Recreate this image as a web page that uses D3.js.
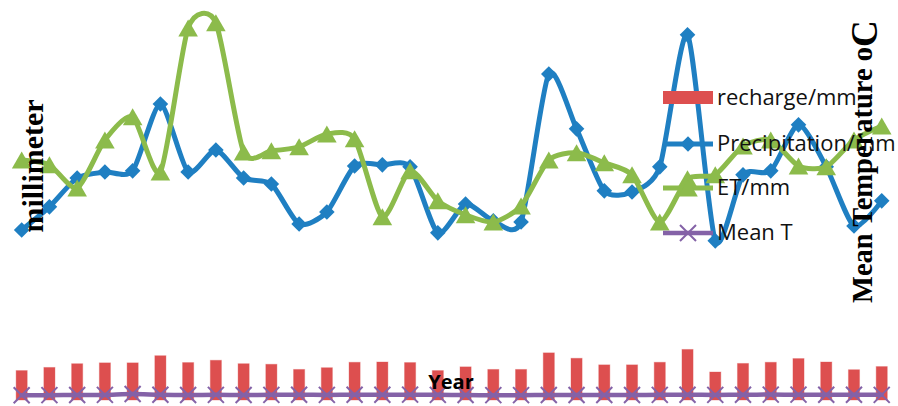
<!DOCTYPE html>
<html>
<head>
<meta charset="utf-8">
<script src="https://cdn.jsdelivr.net/npm/d3@7"></script>
<style>
  html, body { margin: 0; padding: 0; background: #fff; }
  svg { display: block; }
</style>
</head>
<body>
<svg id="chart" width="898" height="406"></svg>
<script>
// Annual water balance, one entry per year
const years = [1985, 1986, 1987, 1988, 1989, 1990, 1991, 1992, 1993, 1994, 1995,
               1996, 1997, 1998, 1999, 2000, 2001, 2002, 2003, 2004, 2005, 2006,
               2007, 2008, 2009, 2010, 2011, 2012, 2013, 2014, 2015, 2016];

const precipitation = [595, 676, 777, 798, 802, 1036, 798, 875, 777, 756, 616,
                       658, 819, 823, 816, 585, 686, 627, 623, 1141, 949, 732,
                       728, 816, 1278, 557, 788, 802, 963, 816, 609, 697];

const evapotranspiration = [840, 823, 742, 910, 991, 798, 1302, 1320, 868, 872, 886,
                            931, 914, 641, 802, 697, 648, 623, 679, 840, 865, 830,
                            788, 623, 774, 788, 889, 910, 819, 816, 910, 959];

const recharge = [103, 114, 127, 130, 130, 155, 131, 139, 127, 125, 107,
                  113, 132, 133, 131, 103, 116, 107, 107, 165, 146, 123,
                  123, 132, 177, 98, 128, 132, 145, 133, 106, 117];

const meanTemp = [14.2, 14.6, 14.9, 15.3, 17.8, 15.6, 15.1, 15.4, 15.2, 15.5, 15.8,
                  15.3, 15.6, 15.9, 16.1, 15.4, 14.8, 14.5, 14.6, 14.9, 15.2, 15.1,
                  15.0, 15.4, 15.7, 15.3, 15.9, 16.2, 16.0, 15.8, 15.6, 15.5];

const seriesNames = ["recharge/mm", "Precipitation/mm", "ET/mm", "Mean T"];

const colors = {
  recharge: "#dd4f4f",
  precip: "#1f7fc2",
  et: "#8cbb4b",
  temp: "#8462a7"
};

const svg = d3.select("#chart");

const x = d3.scaleBand()
  .domain(years)
  .range([7.8, 895.6])
  .paddingInner(0.6)
  .paddingOuter(0.3);
const cx = d => x(d) + x.bandwidth() / 2;

const yLeft = d3.scaleLinear().domain([0, 1400]).range([400, 0]);
const yRight = d3.scaleLinear().domain([0, 1200]).range([400, 0]);

const smooth = d3.curveCardinal.tension(0.3);

// Recharge bars
svg.append("g").selectAll("rect")
  .data(years)
  .join("rect")
  .attr("x", d => x(d))
  .attr("width", x.bandwidth())
  .attr("y", (d, i) => yLeft(recharge[i]))
  .attr("height", (d, i) => yLeft(0) - yLeft(recharge[i]))
  .attr("fill", colors.recharge)
  .attr("stroke", "rgba(221,79,79,0.35)")
  .attr("stroke-width", 1);

// Marker shapes
const diamondPath = "M0,-7.8L7.8,0L0,7.8L-7.8,0Z";
const trianglePath = "M0,-8.5L9.8,8.5L-9.8,8.5Z";
const crossPath = "M-8,-8L8,8M-8,8L8,-8";

function drawSeries(values, scale, color, width, marker, markerStyle) {
  const line = d3.line()
    .x((d, i) => cx(years[i]))
    .y(d => scale(d))
    .curve(smooth);
  const g = svg.append("g");
  g.append("path")
    .attr("d", line(values))
    .attr("fill", "none")
    .attr("stroke", color)
    .attr("stroke-width", width)
    .attr("stroke-linejoin", "round")
    .attr("stroke-linecap", "round");
  g.selectAll("path.mk")
    .data(values)
    .join("path")
    .attr("class", "mk")
    .attr("d", marker)
    .attr("transform", (d, i) => `translate(${cx(years[i])},${scale(d)})`)
    .call(markerStyle);
}

drawSeries(precipitation, yLeft, colors.precip, 5, diamondPath,
  s => s.attr("fill", colors.precip));
drawSeries(evapotranspiration, yLeft, colors.et, 5, trianglePath,
  s => s.attr("fill", colors.et));
drawSeries(meanTemp, yRight, colors.temp, 4.5, crossPath,
  s => s.attr("fill", "none").attr("stroke", colors.temp).attr("stroke-width", 2));

// Legend
const legend = svg.append("g").attr("transform", "translate(663,0)");
const rowY = [97.5, 144, 188, 233];

legend.append("rect")
  .attr("x", 0).attr("y", rowY[0] - 6.5)
  .attr("width", 50).attr("height", 13)
  .attr("fill", colors.recharge);

[[1, colors.precip, diamondPath, true], [2, colors.et, trianglePath, true], [3, colors.temp, crossPath, false]]
  .forEach(([k, c, m, filled]) => {
    legend.append("line")
      .attr("x1", 0).attr("x2", 50)
      .attr("y1", rowY[k]).attr("y2", rowY[k])
      .attr("stroke", c).attr("stroke-width", k === 3 ? 4.5 : 5);
    const mk = legend.append("path")
      .attr("d", m)
      .attr("transform", `translate(25,${rowY[k]})`);
    if (filled) mk.attr("fill", c);
    else mk.attr("fill", "none").attr("stroke", c).attr("stroke-width", 2);
  });

legend.selectAll("text")
  .data(seriesNames)
  .join("text")
  .attr("x", 54)
  .attr("y", (d, i) => rowY[i] + 7)
  .attr("font-family", "'Open Sans', sans-serif")
  .attr("font-size", 22)
  .attr("fill", "#111")
  .text(d => d);

// Axis titles
svg.append("text")
  .attr("transform", "translate(43,166) rotate(-90)")
  .attr("text-anchor", "middle")
  .attr("font-family", "'Liberation Serif', serif")
  .attr("font-weight", "bold")
  .attr("font-size", 29)
  .attr("textLength", 133)
  .attr("lengthAdjust", "spacingAndGlyphs")
  .attr("fill", "#000")
  .text("millimeter");

const rightTitle = svg.append("text")
  .attr("transform", "translate(872,303) rotate(-90)")
  .attr("text-anchor", "start")
  .attr("font-family", "'Liberation Serif', serif")
  .attr("font-weight", "bold")
  .attr("font-size", 28.5)
  .attr("fill", "#000");
rightTitle.append("tspan").text("Mean Temperature o");
rightTitle.append("tspan").attr("font-size", 37).attr("dy", 5).text("C");

svg.append("text")
  .attr("x", 451)
  .attr("y", 389)
  .attr("text-anchor", "middle")
  .attr("font-family", "'Open Sans', sans-serif")
  .attr("font-weight", "bold")
  .attr("font-size", 20)
  .attr("fill", "#000")
  .text("Year");
</script>
</body>
</html>
